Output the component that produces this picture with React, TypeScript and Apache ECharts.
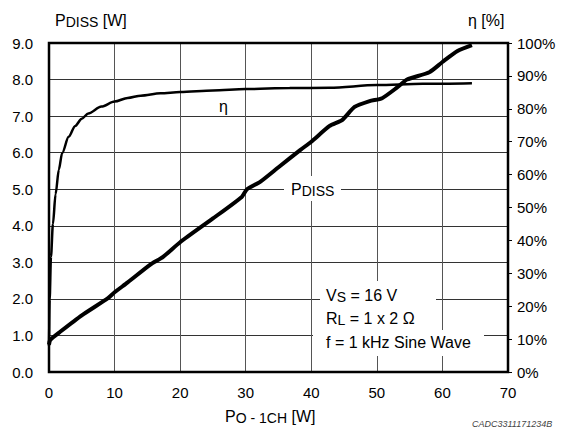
import React, { useEffect, useRef } from "react";
import * as echarts from "echarts";

const pdissX = [0, 0.2, 1.7, 5, 9, 10, 12, 15.4, 17.4, 20, 25, 29.4, 30.2, 32.2, 35, 38.3, 40, 42.8, 44.7, 46.6, 48.9, 50.8, 53, 54.6, 58, 60, 62.3, 64.5];
const pdissY = [0.75, 0.88, 1.1, 1.55, 2.02, 2.18, 2.45, 2.93, 3.15, 3.55, 4.2, 4.79, 5.0, 5.2, 5.6, 6.07, 6.3, 6.73, 6.89, 7.25, 7.41, 7.49, 7.77, 8.0, 8.2, 8.48, 8.78, 8.94];

const etaX = [0, 0.1, 0.3, 0.6, 1, 1.5, 2, 3, 4, 5, 6, 8, 10, 12, 14, 17, 20, 25, 30, 36.7, 42.8, 50, 57, 64.5];
const etaY = [8, 22, 35, 45, 54, 61.5, 66.5, 71.5, 74.8, 77, 78.6, 80.7, 82.2, 83.3, 84, 84.7, 85.1, 85.6, 86, 86.3, 86.4, 87.2, 87.6, 87.8];

const xTicks = { min: 0, max: 70, interval: 10 };
const leftTicks = { min: 0, max: 9, interval: 1 };
const rightTicks = { min: 0, max: 100, interval: 10 };

const FONT = "'Liberation Sans', Arial, sans-serif";

const mainStyle = { fontSize: 16, fontFamily: FONT, color: "#000", lineHeight: 18 };
const subStyle = { fontSize: 14, fontFamily: FONT, color: "#000", verticalAlign: "bottom", lineHeight: 14 };

export default function App() {
  const ref = useRef<HTMLDivElement>(null);
  useEffect(() => {
    if (!ref.current) return;
    const chart = echarts.init(ref.current, undefined, { renderer: "svg" });
    const txt = (x: number, y: number, text: string, extra: any = {}) => ({
      type: "text",
      x,
      y,
      z: 100,
      style: {
        text,
        fontFamily: FONT,
        fontSize: 16,
        fill: "#000",
        verticalAlign: "middle",
        rich: { m: mainStyle, s: subStyle },
        ...extra,
      },
    });
    const bg = (x1: number, y1: number, x2: number, y2: number) => ({
      type: "rect",
      z: 90,
      shape: { x: x1, y: y1, width: x2 - x1, height: y2 - y1 },
      style: { fill: "#fff" },
    });
    chart.setOption({
      animation: false,
      backgroundColor: "#fff",
      grid: {
        left: 49,
        right: 61,
        top: 43,
        bottom: 58,
        show: true,
        borderColor: "#000",
        borderWidth: 2.5,
        backgroundColor: "transparent",
        z: 10,
      },
      xAxis: {
        type: "value",
        ...xTicks,
        axisLine: { show: false },
        axisTick: { show: false },
        axisLabel: { fontFamily: FONT, fontSize: 15, color: "#000", margin: 13 },
        splitLine: { show: true, lineStyle: { color: "#555", width: 1 } },
      },
      yAxis: [
        {
          type: "value",
          ...leftTicks,
          axisLine: { show: false },
          axisTick: { show: false },
          axisLabel: {
            fontFamily: FONT,
            fontSize: 15,
            color: "#000",
            margin: 16,
            formatter: (v: number) => v.toFixed(1),
          },
          splitLine: { show: true, lineStyle: { color: "#333", width: 1 } },
        },
        {
          type: "value",
          position: "right",
          ...rightTicks,
          axisLine: { show: false },
          axisTick: { show: true, length: 4, lineStyle: { color: "#000", width: 1 } },
          axisLabel: { fontFamily: FONT, fontSize: 15, color: "#000", margin: 9, formatter: "{value}%" },
          splitLine: { show: false },
        },
      ],
      series: [
        {
          type: "line",
          name: "PDISS",
          yAxisIndex: 0,
          data: pdissX.map((x, i) => [x, pdissY[i]]),
          showSymbol: false,
          smooth: 0.2,
          lineStyle: { color: "#000", width: 4 },
          z: 5,
        },
        {
          type: "line",
          name: "eta",
          yAxisIndex: 1,
          data: etaX.map((x, i) => [x, etaY[i]]),
          showSymbol: false,
          smooth: 0.3,
          smoothMonotone: "x",
          lineStyle: { color: "#000", width: 2.5 },
          z: 5,
        },
      ],
      graphic: [
        bg(284, 176, 341, 201),
        bg(320, 281, 436, 330),
        bg(313, 330, 484, 356),
        txt(55, 20, "{m|P}{s|DISS}{m| [W]}"),
        txt(468, 20, "η [%]"),
        txt(219, 106, "η"),
        txt(291, 189, "{m|P}{s|DISS}"),
        txt(326, 295, "{m|V}{s|S}{m| = 16 V}"),
        txt(326, 318, "{m|R}{s|L}{m| = 1 x 2 Ω}"),
        txt(326, 342, "f = 1 kHz Sine Wave"),
        txt(225, 416, "{m|P}{s|O - 1CH}{m| [W]}"),
        txt(472, 419, "CADC3311171234B", {
          verticalAlign: "top",
          fontSize: 9,
          fontStyle: "italic",
          fill: "#444",
        }),
      ],
    });
    return () => chart.dispose();
  }, []);
  return (
    <div
      ref={ref}
      style={{ position: "fixed", left: 0, top: 0, width: 569, height: 430, background: "#fff" }}
    />
  );
}
